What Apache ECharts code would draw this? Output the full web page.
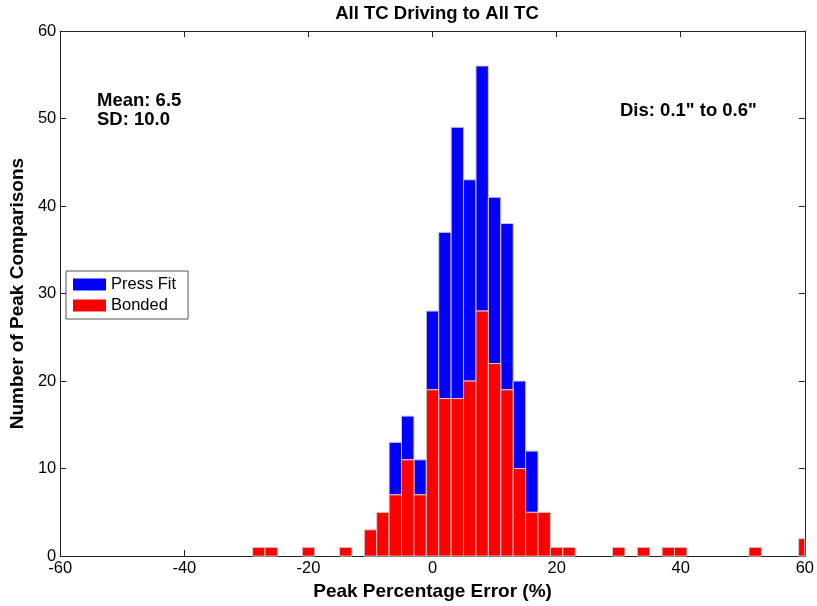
<!DOCTYPE html>
<html>
<head>
<meta charset="utf-8">
<script src="https://cdn.jsdelivr.net/npm/echarts@6/dist/echarts.min.js"></script>
<style>html,body{margin:0;padding:0;background:#fff;}#c{width:817px;height:606px;}</style>
</head>
<body>
<div id="c"></div>
<script>
// Bin centers (Peak Percentage Error, %)
const binCenters = [-28, -26, -20, -14, -10, -8, -6, -4, -2, 0, 2, 4, 6, 8, 10, 12, 14, 16, 18, 20, 22, 30, 34, 38, 40, 52, 60];
// Bonded counts per bin
const bondedCounts = [1, 1, 1, 1, 3, 5, 7, 11, 7, 19, 18, 18, 20, 28, 22, 19, 10, 5, 5, 1, 1, 1, 1, 1, 1, 1, 2];
// Press Fit counts per bin (stacked on top of Bonded)
const pressFitCounts = [0, 0, 0, 0, 0, 0, 6, 5, 4, 9, 19, 31, 23, 28, 19, 19, 10, 7, 0, 0, 0, 0, 0, 0, 0, 0, 0];
const binWidth = 2;
const xTicks = [-60, -40, -20, 0, 20, 40, 60];
const yTicks = [0, 10, 20, 30, 40, 50, 60];

const bondedData = binCenters.map((c, i) => [c, 0, bondedCounts[i]]);
const pressData = binCenters.map((c, i) => [c, bondedCounts[i], bondedCounts[i] + pressFitCounts[i]])
  .filter((d, i) => pressFitCounts[i] > 0);

function makeRender(color) {
  return function (params, api) {
    const x = api.value(0), y0 = api.value(1), y1 = api.value(2);
    const p0 = api.coord([x - binWidth / 2, y1]);
    const p1 = api.coord([x + binWidth / 2, y0]);
    const rect = echarts.graphic.clipRectByRect(
      { x: p0[0], y: p0[1], width: p1[0] - p0[0], height: p1[1] - p0[1] },
      { x: params.coordSys.x, y: params.coordSys.y, width: params.coordSys.width, height: params.coordSys.height }
    );
    if (!rect) return null;
    return {
      type: 'rect',
      shape: rect,
      style: { fill: color, stroke: '#d8c8c8', lineWidth: 1 }
    };
  };
}

const font = 'Liberation Sans, Arial, sans-serif';
const axisLine = { show: true, onZero: false, lineStyle: { color: '#222', width: 1 } };
const axisTick = { show: true, inside: true, length: 6, lineStyle: { color: '#222' } };
const chart = echarts.init(document.getElementById('c'), null, { renderer: 'canvas' });
chart.setOption({
  backgroundColor: '#fff',
  animation: false,
  textStyle: { fontFamily: font, color: '#000' },
  title: {
    text: 'All TC Driving to All TC',
    left: 432, top: -1, textAlign: 'center',
    textStyle: { fontFamily: font, fontSize: 18.5, fontWeight: 'bold', color: '#000' }
  },
  grid: { left: 59, right: 12, top: 31, bottom: 48, containLabel: false },
  legend: {
    orient: 'vertical', left: 66, top: 271,
    itemWidth: 33, itemHeight: 12, itemGap: 4,
    padding: [5, 12, 5, 7],
    borderColor: '#555', borderWidth: 1, backgroundColor: '#fff', borderRadius: 0,
    textStyle: { fontFamily: font, fontSize: 16.5, color: '#000' },
    data: [{ name: 'Press Fit', icon: 'rect' }, { name: 'Bonded', icon: 'rect' }]
  },
  xAxis: [{
    type: 'value', min: -60, max: 60, interval: 20, position: 'bottom',
    name: 'Peak Percentage Error (%)', nameLocation: 'middle', nameGap: 23,
    nameTextStyle: { fontFamily: font, fontSize: 19, fontWeight: 'bold', color: '#000' },
    axisLine: axisLine, axisTick: axisTick,
    axisLabel: { fontFamily: font, fontSize: 16.5, color: '#000', margin: 4,
      formatter: v => xTicks.includes(v) ? String(v) : '' },
    splitLine: { show: false }
  }, {
    type: 'value', min: -60, max: 60, interval: 20, position: 'top',
    axisLine: axisLine, axisTick: axisTick,
    axisLabel: { show: false }, splitLine: { show: false }
  }],
  yAxis: [{
    type: 'value', min: 0, max: 60, interval: 10, position: 'left',
    name: 'Number of Peak Comparisons', nameLocation: 'middle', nameGap: 30,
    nameTextStyle: { fontFamily: font, fontSize: 19, fontWeight: 'bold', color: '#000' },
    axisLine: axisLine, axisTick: axisTick,
    axisLabel: { fontFamily: font, fontSize: 16.5, color: '#000', margin: 4,
      formatter: v => yTicks.includes(v) ? String(v) : '' },
    splitLine: { show: false }
  }, {
    type: 'value', min: 0, max: 60, interval: 10, position: 'right',
    axisLine: axisLine, axisTick: axisTick,
    axisLabel: { show: false }, splitLine: { show: false }
  }],
  series: [{
    name: 'Press Fit', type: 'custom', xAxisIndex: 0, yAxisIndex: 0,
    itemStyle: { color: '#0000ff' },
    renderItem: makeRender('#0000ff'),
    encode: { x: 0, y: [1, 2] },
    data: pressData
  }, {
    name: 'Bonded', type: 'custom', xAxisIndex: 0, yAxisIndex: 0,
    itemStyle: { color: '#ff0000' },
    renderItem: makeRender('#ff0000'),
    encode: { x: 0, y: [1, 2] },
    data: bondedData
  }],
  graphic: [
    { type: 'text', left: 97, top: 91, style: { text: 'Mean: 6.5', font: 'bold 18.5px ' + font, fill: '#000' } },
    { type: 'text', left: 97, top: 110, style: { text: 'SD: 10.0', font: 'bold 18.5px ' + font, fill: '#000' } },
    { type: 'text', left: 620, top: 101, style: { text: 'Dis: 0.1" to 0.6"', font: 'bold 18.5px ' + font, fill: '#000' } }
  ]
});
</script>
</body>
</html>
